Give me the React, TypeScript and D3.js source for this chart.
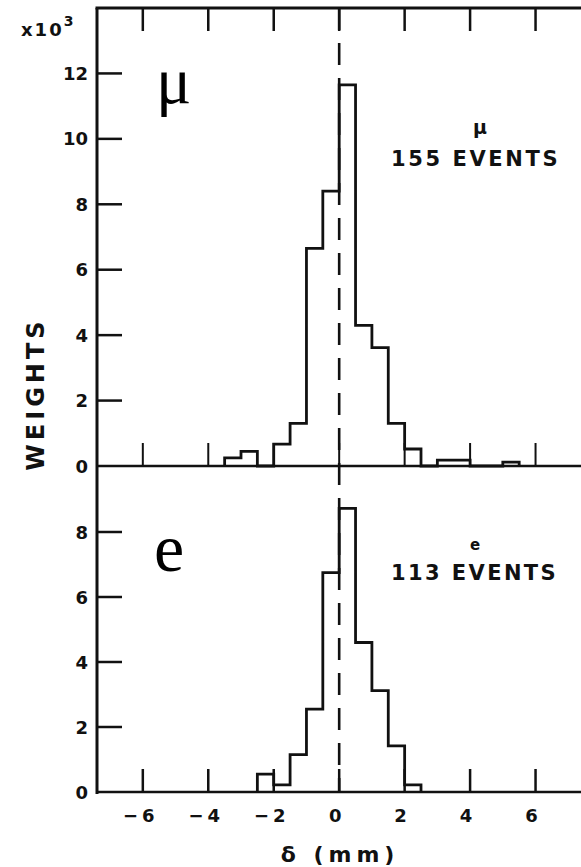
import React from "react";
import * as d3 from "d3";

// ---- data ----
const binWidth = 0.5;
const muStart = -3.5;
const muWeights = [0.25, 0.45, 0, 0.67, 1.3, 6.65, 8.4, 11.65, 4.3, 3.62, 1.3, 0.52, 0, 0.18, 0.18, 0, 0, 0.12];
const eStart = -2.5;
const eWeights = [0.55, 0.22, 1.15, 2.55, 6.75, 8.73, 4.6, 3.12, 1.42, 0.22];
const xTicks = [-6, -4, -2, 0, 2, 4, 6];
const muYTicks = [0, 2, 4, 6, 8, 10, 12];
const eYTicks = [0, 2, 4, 6, 8];
const muLabel = ["\u03bc", "155 EVENTS"];
const eLabel = ["e", "113 EVENTS"];

const W = 581;
const H = 867;
const FONT = "'DejaVu Sans', sans-serif";
const INK = "#111";

const x = d3.scaleLinear().domain([-7.4, 7.45]).range([97, 583]);
const yMu = d3.scaleLinear().domain([0, 14]).range([466, 8]);
const yE = d3.scaleLinear().domain([0, 10]).range([792, 467]);

function histPath(start: number, vals: number[], y: d3.ScaleLinear<number, number>) {
  const pts: [number, number][] = [[start, 0]];
  vals.forEach((v, i) => pts.push([start + i * binWidth, v]));
  pts.push([start + vals.length * binWidth, 0]);
  const line = d3
    .line<[number, number]>()
    .x((d) => x(d[0]))
    .y((d) => y(d[1]))
    .curve(d3.curveStepAfter);
  return line(pts) || "";
}

export default function App() {
  const axisLeft = 97;
  const tickLen = 23;
  return (
    <svg
      width={W}
      height={H}
      style={{ position: "absolute", left: 0, top: 0, background: "#fff" }}
      fontFamily={FONT}
    >
      <rect x={0} y={0} width={W} height={H} fill="#fff" />
      {/* frame lines */}
      <line x1={axisLeft} x2={axisLeft} y1={yMu(14)} y2={yE(0) + 2} stroke={INK} strokeWidth={3} />
      <line x1={axisLeft - 1.5} x2={W} y1={yMu(14)} y2={yMu(14)} stroke={INK} strokeWidth={3} />
      <line x1={axisLeft} x2={W} y1={yMu(0)} y2={yMu(0)} stroke={INK} strokeWidth={2.5} />
      <line x1={axisLeft} x2={W} y1={yE(0)} y2={yE(0)} stroke={INK} strokeWidth={2.5} />

      {/* x ticks */}
      {xTicks.map((t) => (
        <g key={"xt" + t}>
          <line x1={x(t)} x2={x(t)} y1={yMu(14)} y2={yMu(14) + tickLen} stroke={INK} strokeWidth={2.5} />
          <line x1={x(t)} x2={x(t)} y1={yMu(0)} y2={yMu(0) - tickLen} stroke={INK} strokeWidth={2} />
          <line x1={x(t)} x2={x(t)} y1={yE(0)} y2={yE(0) - tickLen} stroke={INK} strokeWidth={2.5} />
          <text
            x={x(t) - 2}
            y={yE(0) + 30}
            textAnchor="middle"
            fontSize={18}
            fontWeight="bold"
            letterSpacing={4}
            fill={INK}
          >
            {t < 0 ? "\u2212" + Math.abs(t) : String(t)}
          </text>
        </g>
      ))}

      {/* y ticks top */}
      {muYTicks.map((t) => (
        <g key={"ym" + t}>
          {t > 0 && (
            <line x1={axisLeft} x2={axisLeft + 25} y1={yMu(t)} y2={yMu(t)} stroke={INK} strokeWidth={2.5} />
          )}
          <text x={88} y={yMu(t) + 6.5} textAnchor="end" fontSize={18} fontWeight="bold" fill={INK}>
            {t}
          </text>
        </g>
      ))}
      {/* y ticks bottom */}
      {eYTicks.map((t) => (
        <g key={"ye" + t}>
          {t > 0 && (
            <line x1={axisLeft} x2={axisLeft + 25} y1={yE(t)} y2={yE(t)} stroke={INK} strokeWidth={2.5} />
          )}
          <text x={88} y={yE(t) + 6.5} textAnchor="end" fontSize={18} fontWeight="bold" fill={INK}>
            {t}
          </text>
        </g>
      ))}

      {/* x10^3 */}
      <text x={21} y={36} fontSize={18} fontWeight="bold" letterSpacing={2} fill={INK}>
        x10
        <tspan dy={-10} fontSize={14}>
          3
        </tspan>
      </text>

      {/* histograms */}
      <path d={histPath(muStart, muWeights, yMu)} fill="none" stroke={INK} strokeWidth={2.8} />
      <path d={histPath(eStart, eWeights, yE)} fill="none" stroke={INK} strokeWidth={2.8} />

      {/* dashed zero line */}
      <line
        x1={x(0)}
        x2={x(0)}
        y1={yMu(14)}
        y2={yE(0)}
        stroke={INK}
        strokeWidth={2.6}
        strokeDasharray="22,13"
      />

      {/* big serif labels */}
      <text x={156} y={103} fontFamily="'Liberation Serif', serif" fontSize={66} fill="#000">
        {muLabel[0]}
      </text>
      <text x={154} y={571} fontFamily="'Liberation Serif', serif" fontSize={68} fill="#000">
        {eLabel[0]}
      </text>

      {/* events annotations */}
      <text x={480} y={134} textAnchor="middle" fontSize={19} fontWeight="bold" fill={INK}>
        {muLabel[0]}
      </text>
      <text x={391} y={166} fontSize={21} fontWeight="bold" letterSpacing={2.6} fill={INK}>
        {muLabel[1]}
      </text>
      <text x={475} y={550} textAnchor="middle" fontSize={15} fontWeight="bold" fill={INK}>
        {eLabel[0]}
      </text>
      <text x={391} y={580} fontSize={21} fontWeight="bold" letterSpacing={2.4} fill={INK}>
        {eLabel[1]}
      </text>

      {/* axis titles */}
      <text
        transform="translate(44,394) rotate(-90)"
        textAnchor="middle"
        fontSize={24}
        fontWeight="bold"
        letterSpacing={4}
        fill={INK}
      >
        WEIGHTS
      </text>
      <text x={340} y={862} textAnchor="middle" fontSize={22} fontWeight="bold" letterSpacing={5} fill={INK}>
        {"\u03b4 (mm)"}
      </text>
    </svg>
  );
}
